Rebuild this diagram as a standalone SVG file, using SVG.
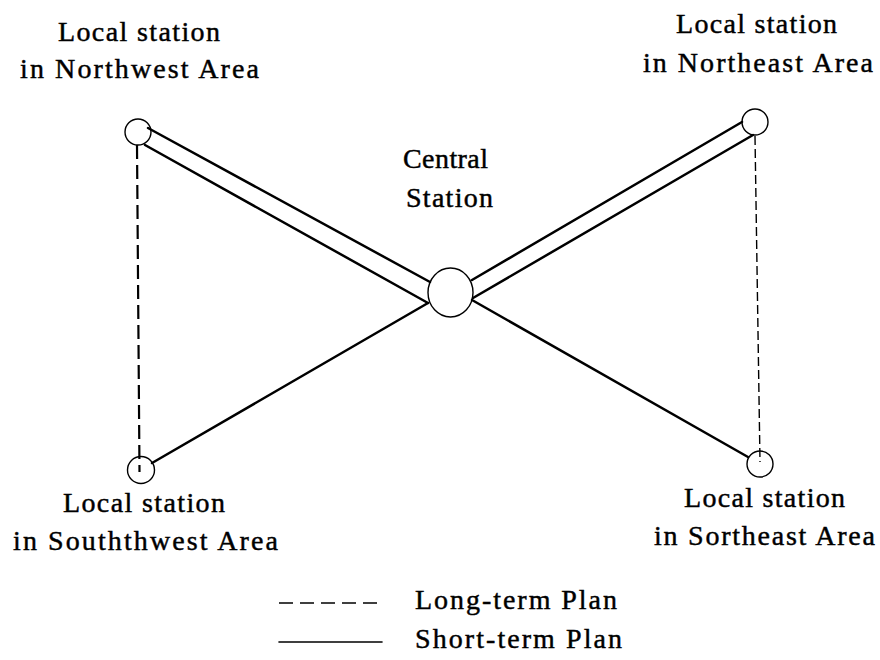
<svg xmlns="http://www.w3.org/2000/svg" width="880" height="660" viewBox="0 0 880 660">
<style>
text{font-family:"Liberation Serif","Times New Roman",serif;font-size:28px;fill:#000;stroke:#000;stroke-width:0.45}
.c{text-anchor:middle}
.node{fill:none;stroke:#000;stroke-width:1.4}
.solid{stroke:#000;stroke-width:2.5;fill:none;stroke-linecap:round}
.dashW{stroke:#000;stroke-width:2.2;stroke-dasharray:14 6;fill:none}
.dashE{stroke:#000;stroke-width:1.4;stroke-dasharray:9 4;fill:none}
.legdash{stroke:#000;stroke-width:1.6;stroke-dasharray:14 7;fill:none}
</style>
<rect width="880" height="660" fill="#fff"/>
<g id="connectors">
<line class="solid" x1="148" y1="128" x2="430" y2="282"/>
<line class="solid" x1="145" y1="145" x2="428" y2="303"/>
<line class="solid" x1="472" y1="280" x2="742" y2="122"/>
<line class="solid" x1="473" y1="298" x2="753" y2="135"/>
<line class="solid" x1="428" y1="303" x2="152" y2="463"/>
<line class="solid" x1="472" y1="300" x2="748" y2="457"/>
<line class="dashW" x1="137" y1="145" x2="139.5" y2="472"/>
<line class="dashE" x1="755" y1="136" x2="760" y2="462"/>
</g>
<g id="central">
<ellipse class="node" cx="450.5" cy="292.5" rx="22.5" ry="24.5"/>
<text class="c" x="445.5" y="168" textLength="85">Central</text>
<text class="c" x="449.5" y="207" textLength="87">Station</text>
</g>
<g id="northwest">
<circle class="node" cx="138" cy="132" r="13"/>
<text class="c" x="139" y="41" textLength="162">Local station</text>
<text class="c" x="139.5" y="78" textLength="239">in Northwest Area</text>
</g>
<g id="northeast">
<circle class="node" cx="755" cy="122" r="13"/>
<text class="c" x="756.5" y="33" textLength="161">Local station</text>
<text class="c" x="758" y="72" textLength="230">in Northeast Area</text>
</g>
<g id="southwest">
<circle class="node" cx="141" cy="470" r="13.5"/>
<text class="c" x="144" y="512" textLength="162">Local station</text>
<text class="c" x="145.5" y="550" textLength="265">in Souththwest Area</text>
</g>
<g id="southeast">
<circle class="node" cx="760" cy="464" r="13"/>
<text class="c" x="764.5" y="507" textLength="161">Local station</text>
<text class="c" x="764.5" y="545" textLength="221">in Sortheast Area</text>
</g>
<g id="legend">
<line class="legdash" x1="279" y1="603" x2="377" y2="603"/>
<line class="solid" x1="279" y1="642" x2="382" y2="642" style="stroke-width:1.6"/>
<text x="415" y="609" textLength="202">Long-term Plan</text>
<text x="415" y="648" textLength="207">Short-term Plan</text>
</g>
</svg>
